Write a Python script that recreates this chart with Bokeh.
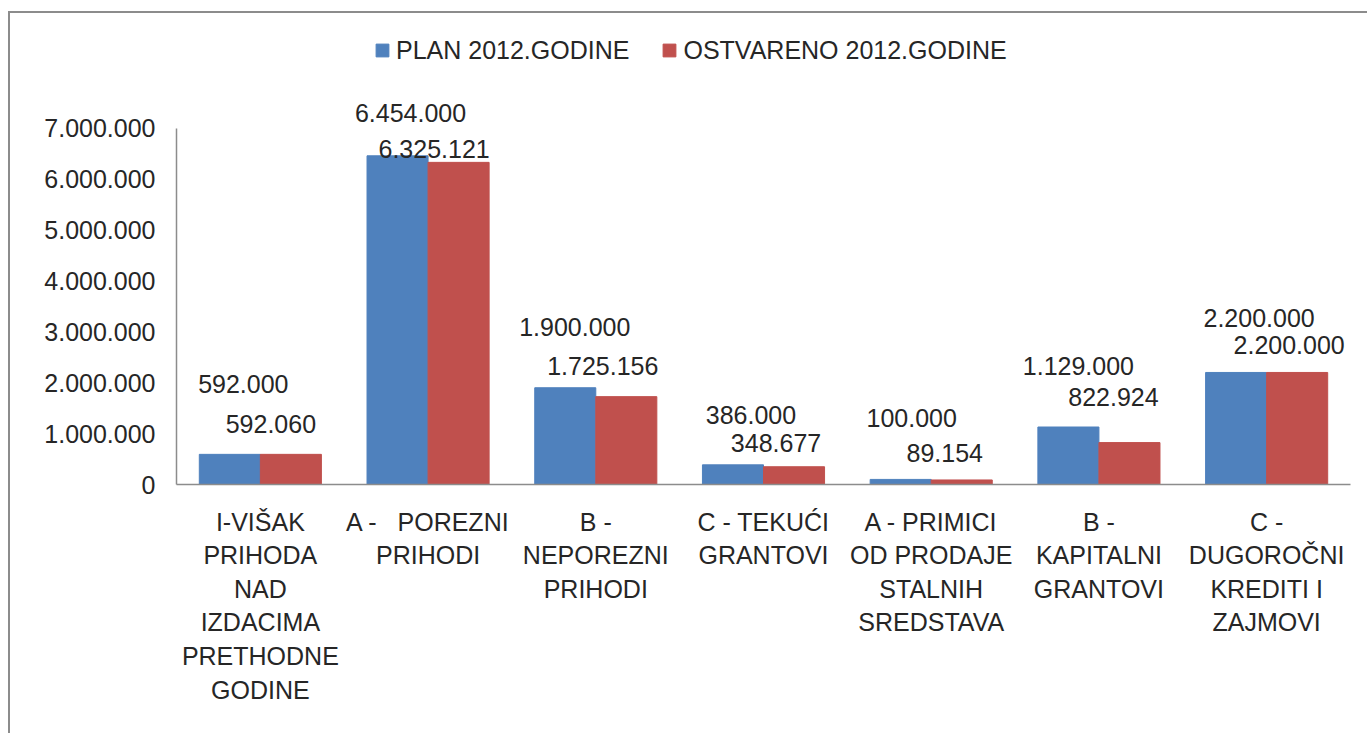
from bokeh.plotting import figure
from bokeh.models import ColumnDataSource, FixedTicker, Range1d, LabelSet, Legend
from bokeh.core.properties import value
from bokeh.embed import file_html
from bokeh.resources import INLINE

categories = [
    "I-VIŠAK\nPRIHODA\nNAD\nIZDACIMA\nPRETHODNE\nGODINE",
    "A -\u00a0\u00a0 POREZNI\nPRIHODI",
    "B -\nNEPOREZNI\nPRIHODI",
    "C - TEKUĆI\nGRANTOVI",
    "A - PRIMICI\nOD PRODAJE\nSTALNIH\nSREDSTAVA",
    "B -\nKAPITALNI\nGRANTOVI",
    "C -\nDUGOROČNI\nKREDITI I\nZAJMOVI",
]
plan = [592000, 6454000, 1900000, 386000, 100000, 1129000, 2200000]
ostvareno = [592060, 6325121, 1725156, 348677, 89154, 822924, 2200000]
series_names = ["PLAN 2012.GODINE", "OSTVARENO 2012.GODINE"]
y_ticks = [0, 1000000, 2000000, 3000000, 4000000, 5000000, 6000000, 7000000]

# label placement (screen px offsets from top of each bar), as in the original chart
plan_dx = [13.5, 13, 9.5, 18, 11, 10, 23]
plan_dy = [70, 43, 61, 50, 61, 61, 54]
ost_dx = [-20, -24.5, -23.5, -18, -17, -16, -8]
ost_dy = [30, 13.5, 31, 24, 27, 46, 27]

FONT = "Liberation Sans"
FS = "25px"
TXT = "#262626"
AX = "#8c8c8c"
BLUE = "#4F81BD"
RED = "#C0504D"


def fmt(v):
    return f"{v:,}".replace(",", ".")


n = len(categories)
xs = list(range(n))
bw = 0.364

src_plan = ColumnDataSource(dict(
    x=[i - bw / 2 for i in xs], top=plan, lbl=[fmt(v) for v in plan],
    dx=plan_dx, dy=plan_dy))
src_ost = ColumnDataSource(dict(
    x=[i + bw / 2 for i in xs], top=ostvareno, lbl=[fmt(v) for v in ostvareno],
    dx=ost_dx, dy=ost_dy))

AXIS_TOP = y_ticks[-1]
FRAME_H = 454
Y_END = AXIS_TOP * FRAME_H / 356.5  # room above the axis for labels and legend

p = figure(frame_width=1174, frame_height=FRAME_H,
           x_range=Range1d(-0.5, n - 0.5), y_range=Range1d(0, Y_END),
           output_backend="svg", toolbar_location=None,
           min_border_left=166, min_border_right=17,
           min_border_top=17, min_border_bottom=249)
p.styles = {"border-left": "2px solid #8c8c8c", "border-top": "2px solid #8c8c8c",
            "margin-top": "11px", "margin-left": "8px"}

r1 = p.vbar(x="x", top="top", width=bw, source=src_plan, fill_color=BLUE,
            line_color=BLUE)
r2 = p.vbar(x="x", top="top", width=bw, source=src_ost, fill_color=RED,
            line_color=RED)

for src in (src_plan, src_ost):
    p.add_layout(LabelSet(x="x", y="top", text="lbl", source=src,
                          x_offset="dx", y_offset="dy",
                          text_align="center", text_baseline="middle",
                          text_font=value(FONT), text_font_size=value(FS),
                          text_color=TXT))

p.xgrid.visible = False
p.ygrid.visible = False
p.outline_line_color = None
p.background_fill_color = "white"
p.border_fill_color = "white"

ya = p.yaxis[0]
ya.ticker = FixedTicker(ticks=y_ticks)
ya.bounds = (0, AXIS_TOP)
ya.major_label_overrides = {t: fmt(t) for t in y_ticks}
ya.major_tick_line_color = None
ya.minor_tick_line_color = None
ya.major_label_standoff = 15
ya.axis_line_color = AX
ya.axis_line_width = 1.5
ya.major_label_text_font = FONT
ya.major_label_text_font_size = FS
ya.major_label_text_color = TXT

xa = p.xaxis[0]
xa.ticker = FixedTicker(ticks=xs)
xa.major_label_overrides = {i: c for i, c in zip(xs, categories)}
xa.major_tick_line_color = None
xa.minor_tick_line_color = None
xa.major_label_standoff = 17
xa.axis_line_color = AX
xa.axis_line_width = 1.5
xa.major_label_text_font = FONT
xa.major_label_text_font_size = FS
xa.major_label_text_color = TXT
xa.major_label_text_line_height = 1.2

lg = Legend(items=[(series_names[0], [r1]), (series_names[1], [r2])],
            orientation="horizontal", location=(198, 419), margin=0, padding=0,
            spacing=32, label_standoff=6, glyph_width=16, glyph_height=16,
            label_height=30, label_text_font=FONT, label_text_font_size=FS,
            label_text_color=TXT, label_text_baseline="middle",
            border_line_color=None, background_fill_alpha=0)
p.add_layout(lg)

open("out.html", "w").write(file_html(p, INLINE))
